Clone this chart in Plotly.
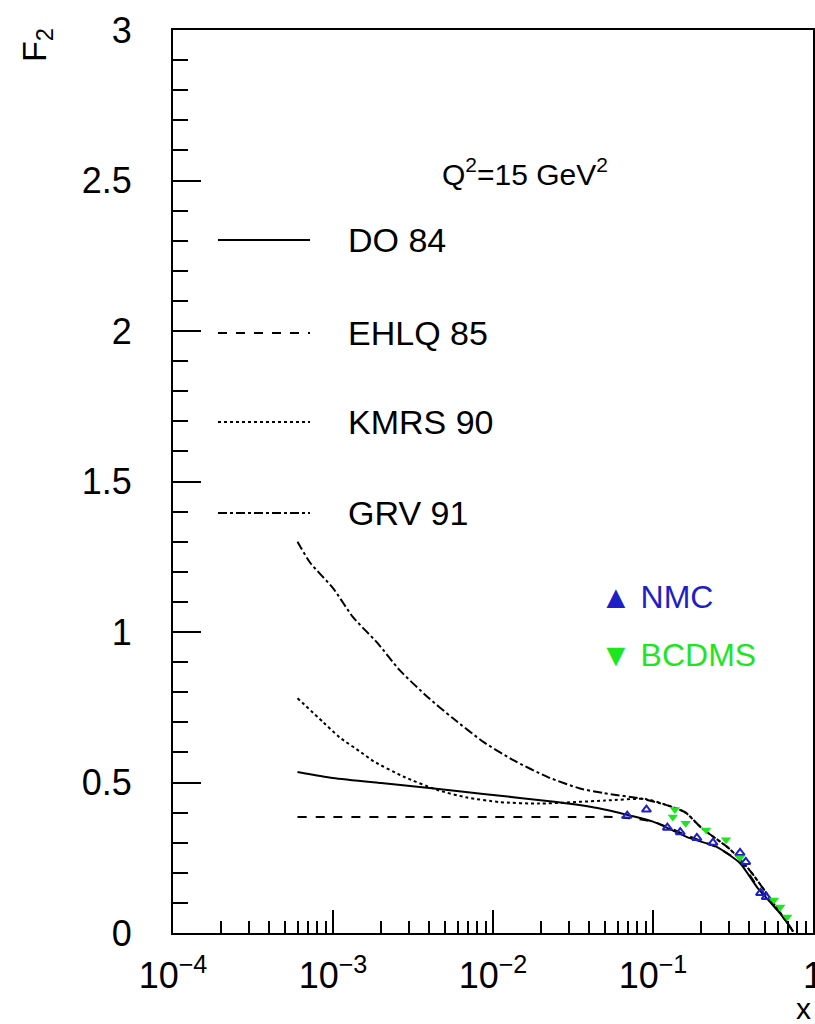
import plotly.graph_objects as go

# ---------------- data ----------------
x_do84 = [6e-4, 1e-3, 2e-3, 4e-3, 8.7e-3, 2.5e-2, 4.5e-2, 7.2e-2, 0.1, 0.17, 0.25, 0.35, 0.45, 0.6, 0.7, 0.75]
y_do84 = [0.535, 0.515, 0.498, 0.482, 0.462, 0.435, 0.415, 0.39, 0.37, 0.315, 0.286, 0.232, 0.15, 0.075, 0.03, 0.005]

x_ehlq = [6e-4, 1e-3, 1e-2, 3e-2, 6e-2, 0.1, 0.17, 0.25, 0.35, 0.45, 0.6, 0.7, 0.75]
y_ehlq = [0.385, 0.385, 0.385, 0.385, 0.385, 0.37, 0.32, 0.285, 0.235, 0.155, 0.075, 0.03, 0.005]

x_kmrs = [6e-4, 8.7e-4, 1.1e-3, 1.5e-3, 1.8e-3, 2.75e-3, 4.5e-3, 6.9e-3, 1.1e-2, 1.95e-2, 5e-2, 9e-2, 0.13, 0.16, 0.2, 0.3, 0.4, 0.5, 0.6, 0.7, 0.75]
y_kmrs = [0.78, 0.70, 0.65, 0.60, 0.57, 0.52, 0.475, 0.45, 0.435, 0.43, 0.44, 0.445, 0.42, 0.40, 0.35, 0.28, 0.21, 0.14, 0.08, 0.03, 0.005]

x_grv = [6e-4, 7.2e-4, 1e-3, 1.33e-3, 1.9e-3, 2.6e-3, 3.9e-3, 5.6e-3, 8.7e-3, 1.33e-2, 2.2e-2, 3.5e-2, 4.9e-2, 8.7e-2, 0.13, 0.16, 0.2, 0.3, 0.4, 0.5, 0.6, 0.7, 0.75]
y_grv = [1.30, 1.23, 1.146, 1.05, 0.963, 0.874, 0.784, 0.714, 0.635, 0.575, 0.518, 0.48, 0.465, 0.445, 0.42, 0.40, 0.35, 0.28, 0.21, 0.14, 0.08, 0.03, 0.005]

x_nmc = [0.069, 0.091, 0.123, 0.148, 0.188, 0.237, 0.35, 0.38, 0.47, 0.51]
y_nmc = [0.39, 0.41, 0.35, 0.335, 0.316, 0.30, 0.266, 0.236, 0.133, 0.12]

x_bcdms = [0.133, 0.137, 0.16, 0.215, 0.286, 0.35, 0.57, 0.625, 0.69]
y_bcdms = [0.385, 0.41, 0.365, 0.342, 0.31, 0.25, 0.11, 0.086, 0.053]

x_tickvals = [1e-4, 1e-3, 1e-2, 1e-1, 1]
x_ticktext = ["10<sup>\u22124</sup>", "10<sup>\u22123</sup>", "10<sup>\u22122</sup>", "10<sup>\u22121</sup>", "1"]
y_tickvals = [0, 0.5, 1, 1.5, 2, 2.5, 3]
y_ticktext = ["0", "0.5", "1", "1.5", "2", "2.5", "3"]

curve_names = ["DO 84", "EHLQ 85", "KMRS 90", "GRV 91"]
curve_dashes = ["solid", "dash", "dot", "dashdot"]

FONT = "Liberation Sans, Arial, sans-serif"
BLUE = "#1f1fc8"
GREEN = "#1ee61e"

fig = go.Figure()
curves = [(x_do84, y_do84), (x_ehlq, y_ehlq), (x_kmrs, y_kmrs), (x_grv, y_grv)]
for (xs, ys), nm, ds in zip(curves, curve_names, curve_dashes):
    fig.add_trace(go.Scatter(x=xs, y=ys, mode="lines", name=nm,
                             line=dict(color="black", width=2, dash=ds, shape="spline", smoothing=0.6)))

fig.add_trace(go.Scatter(x=x_nmc, y=y_nmc, mode="markers", name="NMC",
                         marker=dict(symbol="triangle-up-open", size=8, color=BLUE,
                                     line=dict(width=2, color=BLUE))))
fig.add_trace(go.Scatter(x=x_bcdms, y=y_bcdms, mode="markers", name="BCDMS",
                         marker=dict(symbol="triangle-down", size=9, color=GREEN)))

# ---- legend drawn manually (ROOT-style) ----
L = 173.0; R = 813.0; T = 30.0; B = 933.0
def px(xp):
    return (xp - L) / (R - L)
def py(yp):
    return (B - yp) / (B - T)

leg_y = [240, 333, 422, 513]
for nm, ds, yy in zip(curve_names, curve_dashes, leg_y):
    fig.add_shape(type="line", xref="paper", yref="paper",
                  x0=px(218), x1=px(310), y0=py(yy), y1=py(yy),
                  line=dict(color="black", width=2, dash=ds))
    fig.add_annotation(xref="paper", yref="paper", x=px(346), y=py(yy),
                       text=nm, showarrow=False, xanchor="left", yanchor="middle",
                       font=dict(family=FONT, size=34, color="black"))

fig.add_annotation(xref="paper", yref="paper", x=px(440), y=py(172),
                   text="Q<sup>2</sup>=15 GeV<sup>2</sup>", showarrow=False,
                   xanchor="left", yanchor="middle",
                   font=dict(family=FONT, size=30, color="black"))

fig.add_annotation(xref="paper", yref="paper", x=px(598), y=py(597),
                   text="\u25B2 NMC", showarrow=False, xanchor="left", yanchor="middle",
                   font=dict(family=FONT, size=32, color=BLUE))
fig.add_annotation(xref="paper", yref="paper", x=px(598), y=py(655),
                   text="\u25BC BCDMS", showarrow=False, xanchor="left", yanchor="middle",
                   font=dict(family=FONT, size=32, color=GREEN))

# axis titles
fig.add_annotation(xref="paper", yref="paper", x=px(36), y=py(45),
                   text="F<sub>2</sub>", showarrow=False, textangle=-90,
                   xanchor="center", yanchor="middle",
                   font=dict(family=FONT, size=34, color="black"))
fig.add_annotation(xref="paper", yref="paper", x=px(803), y=py(1008),
                   text="x", showarrow=False, xanchor="center", yanchor="middle",
                   font=dict(family=FONT, size=30, color="black"))

fig.update_layout(
    width=815, height=1024,
    margin=dict(l=173, r=2, t=30, b=91, autoexpand=False),
    paper_bgcolor="white", plot_bgcolor="white",
    showlegend=False,
    font=dict(family=FONT, size=36, color="black"),
)
fig.update_xaxes(type="log", range=[-4, 0], showgrid=False, zeroline=False,
                 automargin=False, ticklabeloverflow="allow",
                 showline=True, linecolor="black", linewidth=2, mirror=True,
                 tickvals=x_tickvals, ticktext=x_ticktext,
                 ticks="inside", ticklen=23, tickwidth=2, tickcolor="black",
                 ticklabelstandoff=10,
                 minor=dict(ticks="inside", ticklen=12, tickwidth=2, tickcolor="black",
                            dtick="D1", showgrid=False),
                 tickfont=dict(family=FONT, size=36, color="black"))
fig.update_yaxes(range=[0, 3], showgrid=False, zeroline=False,
                 automargin=False, ticklabeloverflow="allow",
                 showline=True, linecolor="black", linewidth=2, mirror=True,
                 tickvals=y_tickvals, ticktext=y_ticktext,
                 ticks="inside", ticklen=28, tickwidth=2, tickcolor="black",
                 ticklabelstandoff=32,
                 minor=dict(ticks="inside", ticklen=15, tickwidth=2, tickcolor="black",
                            dtick=0.1, showgrid=False),
                 tickfont=dict(family=FONT, size=36, color="black"))

fig.write_html("out.html", config={"displayModeBar": False},
               post_script="document.body.style.margin='0';document.body.style.overflow='hidden';")
